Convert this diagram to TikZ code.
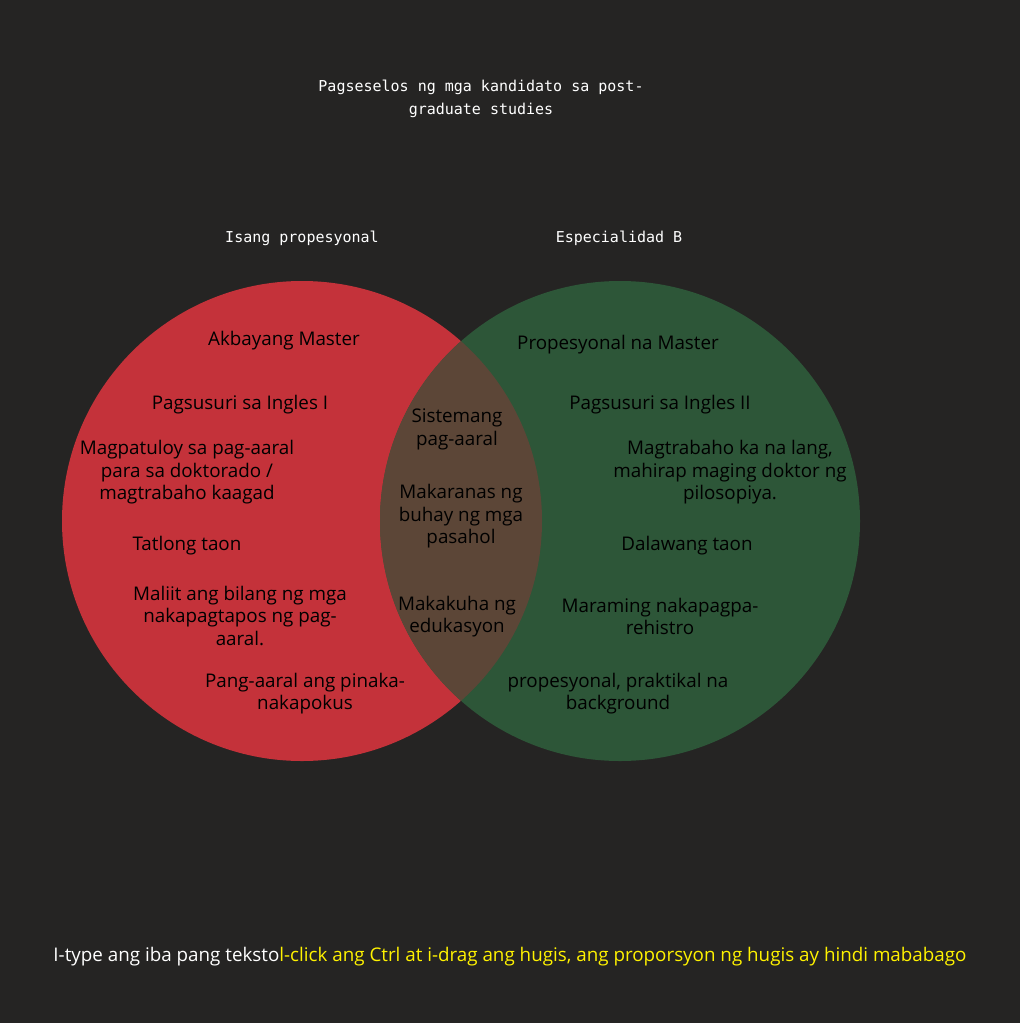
\documentclass[tikz,border=0pt]{standalone}
\usepackage{fontspec}
\setmainfont{Open Sans}
\newfontfamily\monof{DejaVu Sans Mono}
\definecolor{bgc}{HTML}{252423}
\definecolor{redc}{HTML}{C4323A}
\definecolor{greenc}{HTML}{2D5638}
\definecolor{midc}{HTML}{5C4637}
\definecolor{yel}{HTML}{FFF200}
\begin{document}
\begin{tikzpicture}[x=1pt,y=-1pt,
  lbl/.style={text=black,align=center,font=\fontsize{18.8}{22.5}\selectfont,inner sep=0pt},
  ttl/.style={text=white,align=center,font=\monof\fontsize{15}{23}\selectfont,inner sep=0pt}]
\fill[bgc] (0,0) rectangle (1020,1023);
\useasboundingbox (0,0) rectangle (1020,1023);
\fill[redc] (302,521) circle[radius=240];
\fill[greenc] (620,521) circle[radius=240];
\begin{scope}
\clip (302,521) circle[radius=240];
\fill[midc] (620,521) circle[radius=240];
\end{scope}
\node[ttl] (title) at (481,98.5) {Pagseselos ng mga kandidato sa post-\\graduate studies};
\node[ttl] (la) at (302,238.5) {Isang propesyonal};
\node[ttl] (lb) at (619,238.5) {Especialidad B};
% left
\node[lbl] (a1) at (284,341) {Akbayang Master};
\node[lbl] (a2) at (240,405) {Pagsusuri sa Ingles I};
\node[lbl] (a3) at (187,472.5) {Magpatuloy sa pag-aaral\\para sa doktorado /\\magtrabaho kaagad};
\node[lbl] (a4) at (187,546) {Tatlong taon};
\node[lbl] (a5) at (240,615.5) {Maliit ang bilang ng mga\\nakapagtapos ng pag-\\aaral.};
\node[lbl] (a6) at (305,693.5) {Pang-aaral ang pinaka-\\nakapokus};
% middle
\node[lbl] (m1) at (457,429.5) {Sistemang\\pag-aaral};
\node[lbl] (m2) at (461,516.5) {Makaranas ng\\buhay ng mga\\pasahol};
\node[lbl] (m3) at (457,616.5) {Makakuha ng\\edukasyon};
% right
\node[lbl] (b1) at (618,345) {Propesyonal na Master};
\node[lbl] (b2) at (660,405) {Pagsusuri sa Ingles II};
\node[lbl] (b3) at (730,472.5) {Magtrabaho ka na lang,\\mahirap maging doktor ng\\pilosopiya.};
\node[lbl] (b4) at (687,546) {Dalawang taon};
\node[lbl] (b5) at (660,616.5) {Maraming nakapagpa-\\rehistro};
\node[lbl] (b6) at (618,693.5) {propesyonal, praktikal na\\background};
% bottom
\node[lbl,text=white] (foot) at (510,957) {I-type ang iba pang teksto\textcolor{yel}{l-click ang Ctrl at i-drag ang hugis, ang proporsyon ng hugis ay hindi mababago}};
\end{tikzpicture}
\end{document}
